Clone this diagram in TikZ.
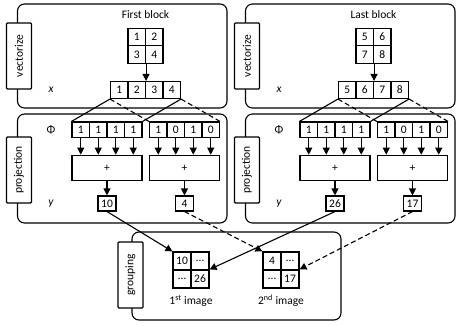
\documentclass[tikz,border=0pt]{standalone}
\usepackage{fontspec}
\setmainfont{Carlito}
\usetikzlibrary{arrows.meta}

\tikzset{
  panel/.style={draw, rounded corners=7pt, line width=1.1pt, inner sep=0pt},
  tag/.style={draw, fill=white, rounded corners=1pt, rotate=90, line width=1.1pt,
    minimum width=66pt, minimum height=25pt, inner sep=0pt},
  cell/.style={draw, line width=1.1pt, minimum width=17.5pt, minimum height=17.5pt, inner sep=0pt},
  veccell/.style={cell, minimum height=17pt},
  phicell/.style={cell, minimum height=15.5pt},
  imgcell/.style={cell, minimum width=18pt, minimum height=18pt},
  sumbox/.style={draw, line width=1.1pt, minimum width=70pt, minimum height=25.5pt, inner sep=0pt},
  outbox/.style={draw, line width=1.1pt, minimum width=18pt, minimum height=15pt, inner sep=0pt},
  link/.style={line width=1.1pt},
  dlink/.style={line width=1.1pt, dash pattern=on 5pt off 3pt},
}

\begin{document}
\begin{tikzpicture}[x=1pt, y=-1pt, font=\fontsize{11.5}{13}\selectfont]
  \useasboundingbox (0,0) rectangle (456,325);
  \begin{scope}[>={Triangle[length=7pt,width=7pt]}]

    % panels
    \node (vecpA) at (122.25,56) [panel, minimum width=209.5pt, minimum height=104pt]{};
    \node (vecpB) at (350.25,56) [panel, minimum width=209.5pt, minimum height=104pt]{};
    \node (projA) at (122.25,168.5) [panel, minimum width=209.5pt, minimum height=109pt]{};
    \node (projB) at (350.25,168.5) [panel, minimum width=209.5pt, minimum height=109pt]{};
    \node (grp) at (236.5,276) [panel, minimum width=209pt, minimum height=88pt]{};

    \node (tvA) at (19,56) [tag]{vectorize};
    \node (tvB) at (247,56) [tag]{vectorize};
    \node (tpA) at (19,170) [tag]{projection};
    \node (tpB) at (247,170) [tag]{projection};
    \node (tg) at (130.5,275) [tag]{grouping};

    % first block
    \node (titleA) at (145.5,15) {First block};
    \node (blkA1) at (136.75,37) [cell]{1};
    \node (blkA2) at (154.25,37) [cell]{2};
    \node (blkA3) at (136.75,54.5) [cell]{3};
    \node (blkA4) at (154.25,54.5) [cell]{4};
    \node (xlabA) at (51,90) {\itshape x};
    \node (vecA1) at (119.25,90) [veccell]{1};
    \node (vecA2) at (136.75,90) [veccell]{2};
    \node (vecA3) at (154.25,90) [veccell]{3};
    \node (vecA4) at (171.75,90) [veccell]{4};

    \node (philabA) at (51,130) {Φ};
    \node (phiA1) at (80.75,129.75) [phicell]{1};
    \node (phiA2) at (98.25,129.75) [phicell]{1};
    \node (phiA3) at (115.75,129.75) [phicell]{1};
    \node (phiA4) at (133.25,129.75) [phicell]{1};
    \node (phiA5) at (158.25,129.75) [phicell]{1};
    \node (phiA6) at (175.75,129.75) [phicell]{0};
    \node (phiA7) at (193.25,129.75) [phicell]{1};
    \node (phiA8) at (210.75,129.75) [phicell]{0};
    \node (sumA1) at (107,168) [sumbox]{+};
    \node (sumA2) at (184.5,168) [sumbox]{+};
    \node (ylabA) at (51,204) {\itshape y};
    \node (yA1) at (107,203.5) [outbox]{10};
    \node (yA2) at (184.5,203.5) [outbox]{4};

    % last block
    \node (titleB) at (373.5,15) {Last block};
    \node (blkB1) at (364.75,37) [cell]{5};
    \node (blkB2) at (382.25,37) [cell]{6};
    \node (blkB3) at (364.75,54.5) [cell]{7};
    \node (blkB4) at (382.25,54.5) [cell]{8};
    \node (xlabB) at (279,90) {\itshape x};
    \node (vecB1) at (347.25,90) [veccell]{5};
    \node (vecB2) at (364.75,90) [veccell]{6};
    \node (vecB3) at (382.25,90) [veccell]{7};
    \node (vecB4) at (399.75,90) [veccell]{8};

    \node (philabB) at (279,130) {Φ};
    \node (phiB1) at (308.75,129.75) [phicell]{1};
    \node (phiB2) at (326.25,129.75) [phicell]{1};
    \node (phiB3) at (343.75,129.75) [phicell]{1};
    \node (phiB4) at (361.25,129.75) [phicell]{1};
    \node (phiB5) at (386.25,129.75) [phicell]{1};
    \node (phiB6) at (403.75,129.75) [phicell]{0};
    \node (phiB7) at (421.25,129.75) [phicell]{1};
    \node (phiB8) at (438.75,129.75) [phicell]{0};
    \node (sumB1) at (335,168) [sumbox]{+};
    \node (sumB2) at (412.5,168) [sumbox]{+};
    \node (ylabB) at (279,204) {\itshape y};
    \node (yB1) at (335,203.5) [outbox]{26};
    \node (yB2) at (412.5,203.5) [outbox]{17};

    % grouped images
    \node (imgA1) at (182,261) [imgcell]{10};
    \node (imgA2) at (200,261) [imgcell]{\dots};
    \node (imgA3) at (182,279) [imgcell]{\dots};
    \node (imgA4) at (200,279) [imgcell]{26};
    \node (capA) at (191,301) {1\textsuperscript{st} image};
    \node (imgB1) at (272,261) [imgcell]{4};
    \node (imgB2) at (290,261) [imgcell]{\dots};
    \node (imgB3) at (272,279) [imgcell]{\dots};
    \node (imgB4) at (290,279) [imgcell]{17};
    \node (capB) at (281,301) {2\textsuperscript{nd} image};

    % vectorize
    \draw[->, link] (blkA3.south east) -- (vecA2.north east);
    \draw[->, link] (blkB3.south east) -- (vecB2.north east);

    % copies of x
    \draw[link] (vecA1.south west) -- (phiA1.north west);
    \draw[link] (vecA4.south east) -- (phiA4.north east);
    \draw[dlink] (vecA1.south west) -- (phiA5.north west);
    \draw[dlink] (vecA4.south east) -- (phiA8.north east);
    \draw[link] (vecB1.south west) -- (phiB1.north west);
    \draw[link] (vecB4.south east) -- (phiB4.north east);
    \draw[dlink] (vecB1.south west) -- (phiB5.north west);
    \draw[dlink] (vecB4.south east) -- (phiB8.north east);

    % projection
    \foreach \s in {A,B} {
      \foreach \i in {1,...,4} {
        \draw[->, link] (phi\s\i.south) -- (phi\s\i.south |- sum\s1.north);
      }
      \foreach \i in {5,...,8} {
        \draw[->, link] (phi\s\i.south) -- (phi\s\i.south |- sum\s2.north);
      }
      \draw[->, link] (sum\s1) -- (y\s1);
      \draw[->, link] (sum\s2) -- (y\s2);
    }

    % grouping
    \draw[->, link] (yA1.south) -- (imgA1.north west);
    \draw[->, link] (yB1.south) -- (imgA4.north east);
    \draw[->, dlink] (yA2.south) -- (imgB1.north west);
    \draw[->, dlink] (yB2.south) -- (imgB4.north east);

  \end{scope}
\end{tikzpicture}
\end{document}
